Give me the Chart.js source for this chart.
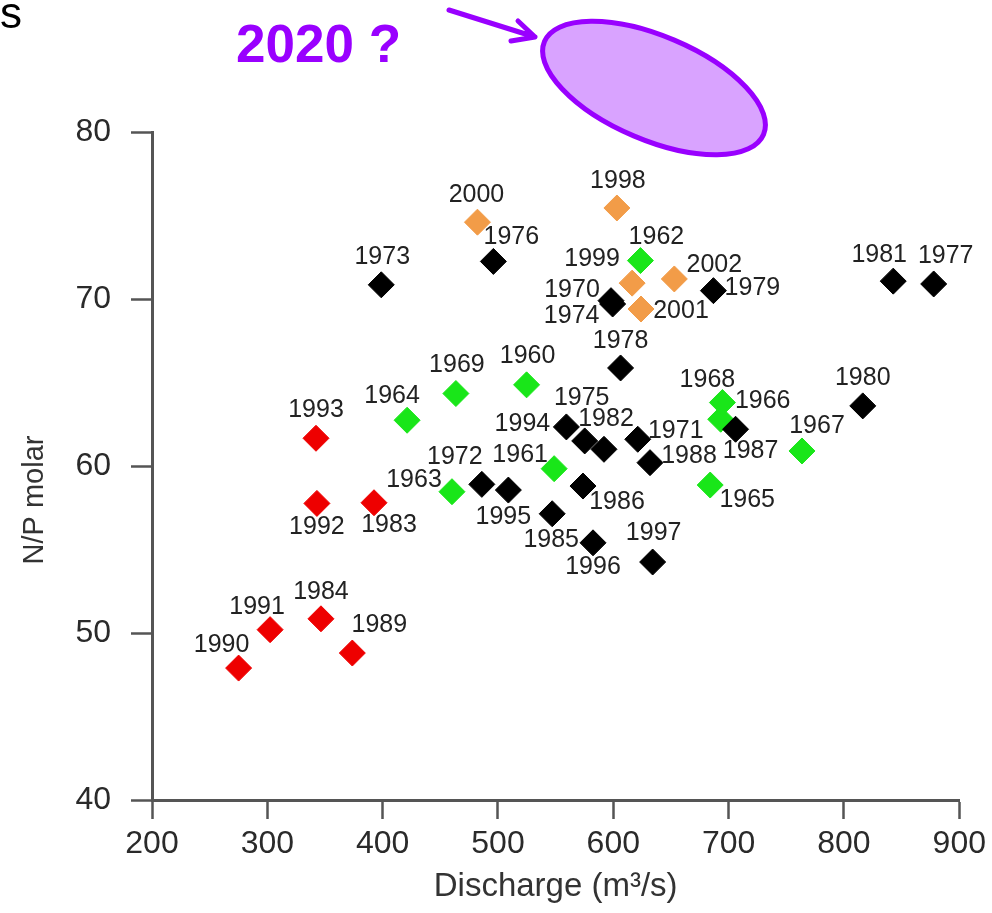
<!DOCTYPE html>
<html>
<head>
<meta charset="utf-8">
<script src="https://cdn.jsdelivr.net/npm/chart.js@4"></script>
<style>
  body { margin: 0; background: #fff; }
  #wrap { width: 992px; height: 913px; position: relative; }
</style>
</head>
<body>
<div id="wrap"><canvas id="npChart"></canvas></div>
<script>
// 1960s
const greenYears = [1960, 1961, 1962, 1963, 1964, 1965, 1966, 1967, 1968, 1969];
const greenQ     = [524.8, 548.7, 623.5, 460.1, 421.2, 684.0, 693.1, 763.6, 694.6, 463.5];
const greenNP    = [64.86, 59.84, 72.3, 58.46, 62.74, 58.86, 62.8, 60.9, 63.8, 64.34];

// black years
const blackYears = [1970, 1971, 1972, 1973, 1974, 1975, 1976, 1977, 1978, 1979, 1980,
                    1981, 1982, 1985, 1986, 1987, 1988, 1994, 1995, 1996, 1997];
const blackQ     = [598.0, 621.2, 486.0, 398.8, 599.4, 575.2, 496.0, 877.8, 606.3, 686.8, 816.3,
                    842.7, 591.9, 547.0, 573.7, 706.0, 631.8, 559.3, 509.0, 582.4, 634.1];
const blackNP    = [69.9, 61.6, 58.9, 70.85, 69.7, 61.5, 72.25, 70.9, 65.87, 70.5, 63.6,
                    71.07, 61.0, 57.14, 58.8, 62.2, 60.2, 62.34, 58.56, 55.4, 54.25];

// red years
const redYears = [1983, 1984, 1989, 1990, 1991, 1992, 1993];
const redQ     = [392.5, 346.5, 373.7, 275.1, 302.4, 343.0, 342.2];
const redNP    = [57.8, 50.85, 48.8, 47.9, 50.2, 57.76, 61.66];

// recent years
const orangeYears = [1998, 1999, 2000, 2001, 2002];
const orangeQ     = [603.1, 616.3, 482.2, 624.0, 652.9];
const orangeNP    = [75.45, 70.95, 74.6, 69.4, 71.2];

const xTicks = [200, 300, 400, 500, 600, 700, 800, 900];
const yTicks = [40, 50, 60, 70, 80];

// where each year label sits relative to its marker (px)
const labelOffset = {
  1960: [1, -29], 1961: [-34, -14], 1962: [16, -23], 1963: [-38, -12], 1964: [-15, -24],
  1965: [37, 15], 1966: [42, -18], 1967: [15, -25], 1968: [-15, -22], 1969: [1, -28],
  1970: [-39, -11], 1971: [38, -8], 1972: [-27, -27], 1973: [1, -28], 1974: [-41, 12],
  1975: [-3, -43], 1976: [18, -24], 1977: [12, -28], 1978: [0, -27], 1979: [39, -3],
  1980: [0, -28], 1981: [-14, -26], 1982: [2, -30], 1983: [15, 22], 1984: [0, -27],
  1985: [-1, 26], 1986: [34, 16], 1987: [15, 22], 1988: [39, -7], 1989: [27, -28],
  1990: [-17, -23], 1991: [-13, -23], 1992: [0, 24], 1993: [0, -28], 1994: [-44, -3],
  1995: [-5, 27], 1996: [0, 24], 1997: [1, -29], 1998: [1, -27], 1999: [-40, -24],
  2000: [-1, -27], 2001: [40, 2], 2002: [40, -14]
};

function pts(q, np, yrs) {
  return q.map((v, i) => ({ x: v, y: np[i], year: yrs[i] }));
}

function diamonds(data, color) {
  return {
    data: data,
    pointStyle: 'rectRot',
    pointRadius: 13,
    pointHoverRadius: 13,
    backgroundColor: color,
    borderColor: color,
    borderWidth: 1,
    clip: false
  };
}

const font = "'Liberation Sans', Arial, sans-serif";

const yearLabels = {
  id: 'yearLabels',
  afterDatasetsDraw(chart) {
    const ctx = chart.ctx;
    ctx.save();
    ctx.font = '25px ' + font;
    ctx.fillStyle = '#222';
    ctx.textAlign = 'center';
    ctx.textBaseline = 'middle';
    chart.data.datasets.forEach((ds, di) => {
      const meta = chart.getDatasetMeta(di);
      meta.data.forEach((el, i) => {
        const yr = ds.data[i].year;
        const off = labelOffset[yr] || [0, -28];
        ctx.fillText(String(yr), el.x + off[0], el.y + off[1]);
      });
    });
    ctx.restore();
  }
};

const extras = {
  id: 'extras',
  afterDraw(chart) {
    const ctx = chart.ctx;
    ctx.save();
    // y axis title
    ctx.translate(35, 500);
    ctx.rotate(-Math.PI / 2);
    ctx.font = '29px ' + font;
    ctx.fillStyle = '#333';
    ctx.textAlign = 'center';
    ctx.textBaseline = 'middle';
    ctx.fillText('N/P molar', 0, 0);
    ctx.restore();

    ctx.save();
    ctx.fillStyle = '#000';
    ctx.font = '44px ' + font;
    ctx.textBaseline = 'alphabetic';
    ctx.fillText('s', 0, 28);

    // annotation
    const purple = '#9900ff';
    ctx.fillStyle = purple;
    ctx.font = 'bold 53px ' + font;
    ctx.fillText('2020 ?', 236, 62);

    ctx.strokeStyle = purple;
    ctx.lineWidth = 5;
    ctx.lineCap = 'round';
    ctx.lineJoin = 'round';
    ctx.beginPath();
    ctx.moveTo(449, 10);
    ctx.lineTo(535, 37);
    ctx.moveTo(518, 21);
    ctx.lineTo(535, 37);
    ctx.lineTo(511, 41);
    ctx.stroke();

    ctx.beginPath();
    ctx.ellipse(654, 88, 119, 52, 23 * Math.PI / 180, 0, Math.PI * 2);
    ctx.fillStyle = '#d9a3ff';
    ctx.fill();
    ctx.stroke();
    ctx.restore();
  }
};

new Chart(document.getElementById('npChart'), {
  type: 'scatter',
  data: {
    datasets: [
      diamonds(pts(blackQ, blackNP, blackYears), '#000000'),
      diamonds(pts(greenQ, greenNP, greenYears), '#19e619'),
      diamonds(pts(orangeQ, orangeNP, orangeYears), '#f29c48'),
      diamonds(pts(redQ, redNP, redYears), '#ee0000')
    ]
  },
  options: {
    responsive: true,
    maintainAspectRatio: false,
    animation: false,
    layout: { padding: { top: 132, right: 27, left: 0, bottom: 0 } },
    plugins: {
      legend: { display: false },
      tooltip: { enabled: false }
    },
    scales: {
      x: {
        type: 'linear',
        min: 200,
        max: 900,
        afterBuildTicks: s => { s.ticks = xTicks.map(v => ({ value: v })); },
        afterFit: s => { s.height = 113; },
        border: { display: true, color: '#555', width: 3 },
        grid: { drawOnChartArea: false, drawTicks: true, tickLength: 19, tickColor: '#555', tickWidth: 2.5 },
        ticks: { color: '#2a2a2a', font: { family: font, size: 32 }, padding: 6, maxRotation: 0 },
        title: {
          display: true,
          text: 'Discharge (m³/s)',
          color: '#333',
          font: { family: font, size: 33, lineHeight: 1.2 },
          padding: { top: 4, bottom: 6 }
        }
      },
      y: {
        type: 'linear',
        min: 40,
        max: 80,
        afterBuildTicks: s => { s.ticks = yTicks.map(v => ({ value: v })); },
        afterFit: s => { s.width = 152; },
        border: { display: true, color: '#555', width: 3 },
        grid: { drawOnChartArea: false, drawTicks: true, tickLength: 21, tickColor: '#555', tickWidth: 2.5 },
        ticks: { color: '#2a2a2a', font: { family: font, size: 32 }, padding: 20 }
      }
    }
  },
  plugins: [yearLabels, extras]
});
</script>
</body>
</html>
